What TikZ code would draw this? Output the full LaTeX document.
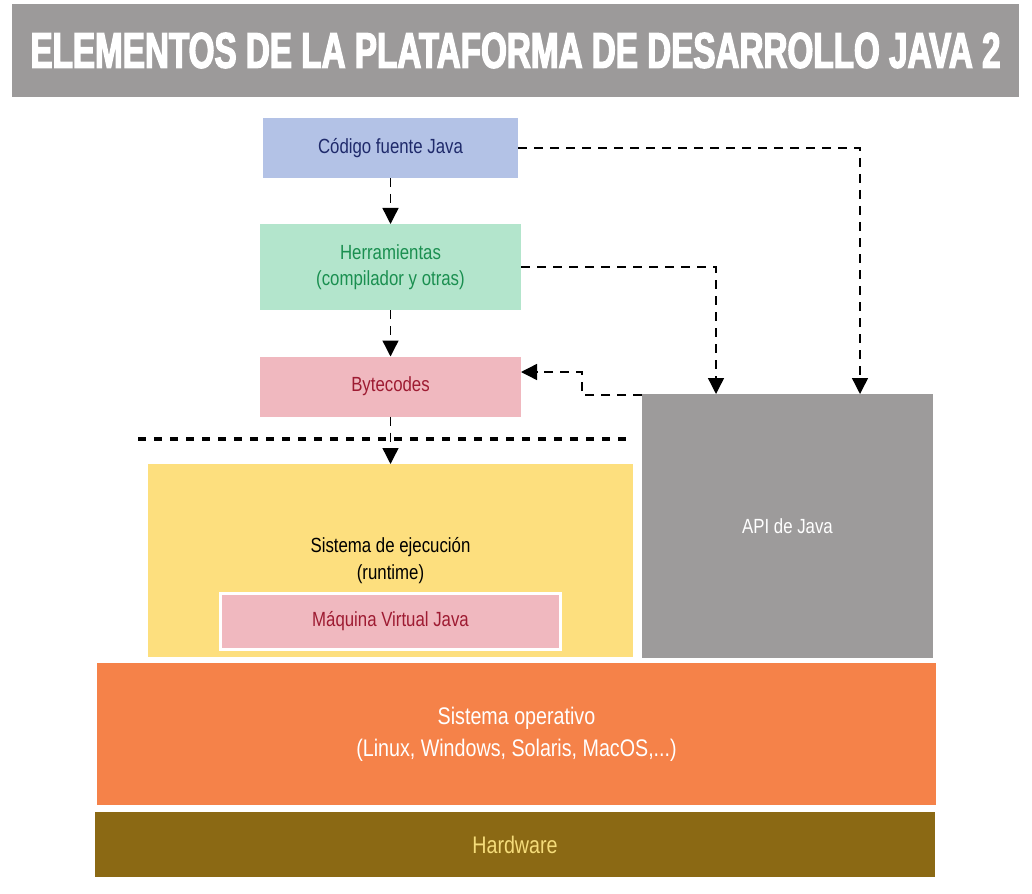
\documentclass[tikz,border=0pt]{standalone}
\usepackage{graphicx}
\usepackage{fontspec}
\setmainfont{Liberation Sans}[FakeStretch=0.82]
\newfontfamily\titlefont{Liberation Sans}[FakeStretch=0.65,FakeBold=2.5]
\usetikzlibrary{arrows.meta,calc}
\definecolor{titlegray}{HTML}{9C9A9A}
\definecolor{apigray}{HTML}{9D9B9B}
\definecolor{codfill}{HTML}{B3C2E6}
\definecolor{codtext}{HTML}{1F2A6B}
\definecolor{herrfill}{HTML}{B3E5CC}
\definecolor{herrtext}{HTML}{1A8F50}
\definecolor{pinkfill}{HTML}{F0B8BF}
\definecolor{pinktext}{HTML}{9E1B32}
\definecolor{yellowfill}{HTML}{FDDF7E}
\definecolor{osfill}{HTML}{F58249}
\definecolor{hwfill}{HTML}{8B6914}
\definecolor{hwtext}{HTML}{F5DC7A}
\begin{document}
\begin{tikzpicture}[x=1pt,y=-1pt,
  blk/.style={inner sep=0pt, outer sep=0pt, align=center, anchor=center},
  lbl/.style={font=\fontsize{20.5}{26.5}\selectfont},
  biglbl/.style={font=\fontsize{24}{32}\selectfont},
  conn/.style={draw=black, line width=1.4pt, dash pattern=on 9pt off 7pt,
    -{Triangle[length=16pt,width=16pt]}},
  sep/.style={draw=black, line width=4pt, dash pattern=on 8pt off 8pt}
]
\useasboundingbox (0,0) rectangle (1032,893);
\fill[white] (0,0) rectangle (1032,893);

% title
\node[blk, fill=titlegray, minimum width=1007pt, minimum height=93pt] (title) at (515.5,50.5)
  {\color{white}\resizebox{970pt}{35pt}{\titlefont\bfseries ELEMENTOS DE LA PLATAFORMA DE DESARROLLO JAVA 2}};

% boxes
\node[blk, lbl, fill=codfill, text=codtext, minimum width=255pt, minimum height=60pt] (cod) at (390.5,148) {Código fuente Java};
\node[blk, lbl, fill=herrfill, text=herrtext, minimum width=261pt, minimum height=86pt] (herr) at (390.5,267) {Herramientas\\(compilador y otras)};
\node[blk, lbl, fill=pinkfill, text=pinktext, minimum width=261pt, minimum height=60pt] (byte) at (390.5,386.5) {Bytecodes};
\node[blk, lbl, fill=yellowfill, text=black, minimum width=485pt, minimum height=193pt] (run) at (390.5,560.5) {};
\node[blk, lbl, text=black] (runlbl) at (390.5,560.5) {Sistema de ejecución\\(runtime)};
\node[blk, lbl, fill=pinkfill, draw=white, line width=3pt, text=pinktext, minimum width=340pt, minimum height=56pt] (mvj) at (390.5,621.5) {Máquina Virtual Java};
\node[blk, lbl, fill=apigray, text=white, minimum width=291pt, minimum height=264pt] (api) at (787.5,526) {API de Java};
\node[blk, biglbl, fill=osfill, text=white, minimum width=839pt, minimum height=142pt] (os) at (516.5,734) {Sistema operativo\\(Linux, Windows, Solaris, MacOS,...)};
\node[blk, biglbl, fill=hwfill, text=hwtext, minimum width=840pt, minimum height=65pt] (hw) at (515,844.5) {Hardware};

% separator
\coordinate (sepL) at (138,439);
\coordinate (sepR) at (629,439);
\draw[sep] (sepL) -- (sepR);

% connectors
\coordinate (apiA) at (716,394);
\coordinate (apiB) at (860,394);
\coordinate (bend) at (582,395);
\coordinate (byteIn) at (521,372);
\coordinate (apiOut) at (642,395);

\draw[conn] (cod.south) -- (herr.north);
\draw[conn] (herr.south) -- (byte.north);
\draw[conn] (byte.south) -- (run.north);
\draw[conn] (cod.east) -| (apiB);
\draw[conn] (herr.east) -| (apiA);
\draw[conn] (apiOut) -- (bend) |- (byteIn);
\end{tikzpicture}
\end{document}
